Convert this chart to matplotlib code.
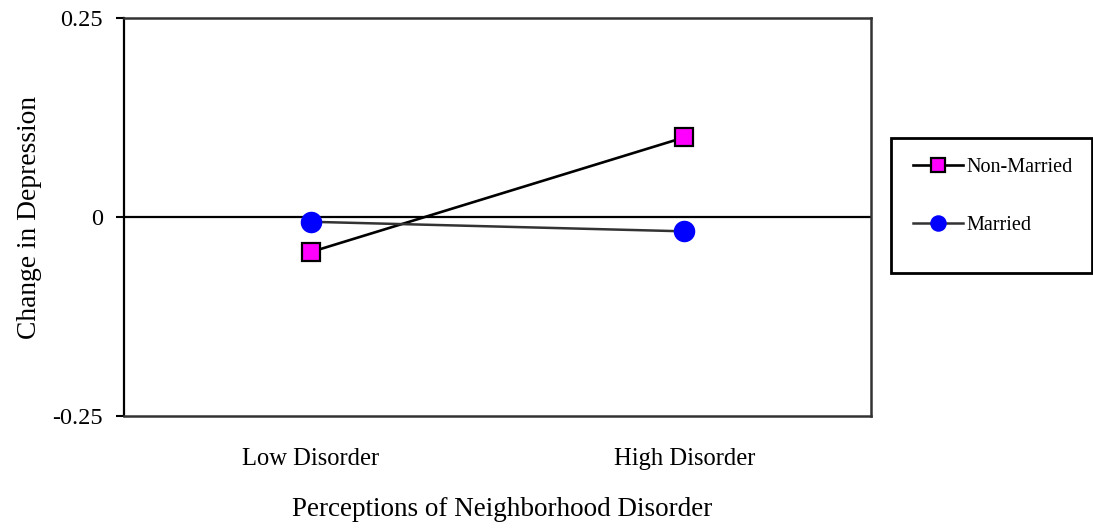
import matplotlib
matplotlib.use("Agg")
from matplotlib import pyplot as plt
from matplotlib.patches import Rectangle

categories = ["Low Disorder", "High Disorder"]
non_married = [-0.044, 0.100]
married = [-0.006, -0.018]
y_ticks = [-0.25, 0, 0.25]
y_tick_labels = ["-0.25", "0", "0.25"]

plt.rcParams["font.family"] = ["Liberation Serif", "DejaVu Serif"]

fig = plt.figure(figsize=(10.93, 5.29), dpi=100)
ax = fig.add_axes([124 / 1093, 113 / 529, 747 / 1093, 398 / 529])

xs = list(range(len(categories)))

ax.axhline(0, color="black", lw=1.6, zorder=1)
ax.plot(xs, non_married, "-", color="black", lw=1.9, marker="s", markersize=13,
        markerfacecolor="#ff00ff", markeredgecolor="black", markeredgewidth=1.6,
        label="Non-Married", zorder=3)
ax.plot(xs, married, "-", color="#333333", lw=1.8, marker="o", markersize=14.5,
        markerfacecolor="#0000ff", markeredgecolor="#0000ff",
        label="Married", zorder=3)

ax.set_xlim(-0.5, 1.5)
ax.set_ylim(-0.25, 0.25)
ax.set_xticks(xs)
ax.set_xticklabels(categories, fontsize=17.7)
ax.set_yticks(y_ticks)
ax.set_yticklabels(y_tick_labels, fontsize=17.5)
ax.tick_params(axis="x", length=0, pad=23)
ax.tick_params(axis="y", direction="out", length=6, width=1.5, pad=9)

ax.spines["left"].set_color("black")
ax.spines["left"].set_linewidth(1.6)
for side in ["top", "right", "bottom"]:
    ax.spines[side].set_color("#333333")
    ax.spines[side].set_linewidth(1.8)

ax.set_xlabel("Perceptions of Neighborhood Disorder", fontsize=19.5, va="center")
ax.xaxis.set_label_coords(0.506, -0.236)
ax.set_ylabel("Change in Depression", fontsize=19.8, va="center")
ax.yaxis.set_label_coords(-0.127, 0.5)

# legend box
fig.patches.append(Rectangle((891 / 1093, 1 - 273 / 529), 201 / 1093, 135 / 529,
                             transform=fig.transFigure, fill=False,
                             edgecolor="black", lw=2))
fig.legend(loc="center left", bbox_to_anchor=(913 / 1093, 1 - 196.5 / 529),
           frameon=False, fontsize=14.5, handlelength=2.5, handletextpad=0.15,
           labelspacing=1.95, borderpad=0, borderaxespad=0, markerscale=0.75)

fig.savefig("out.png", dpi=100)
